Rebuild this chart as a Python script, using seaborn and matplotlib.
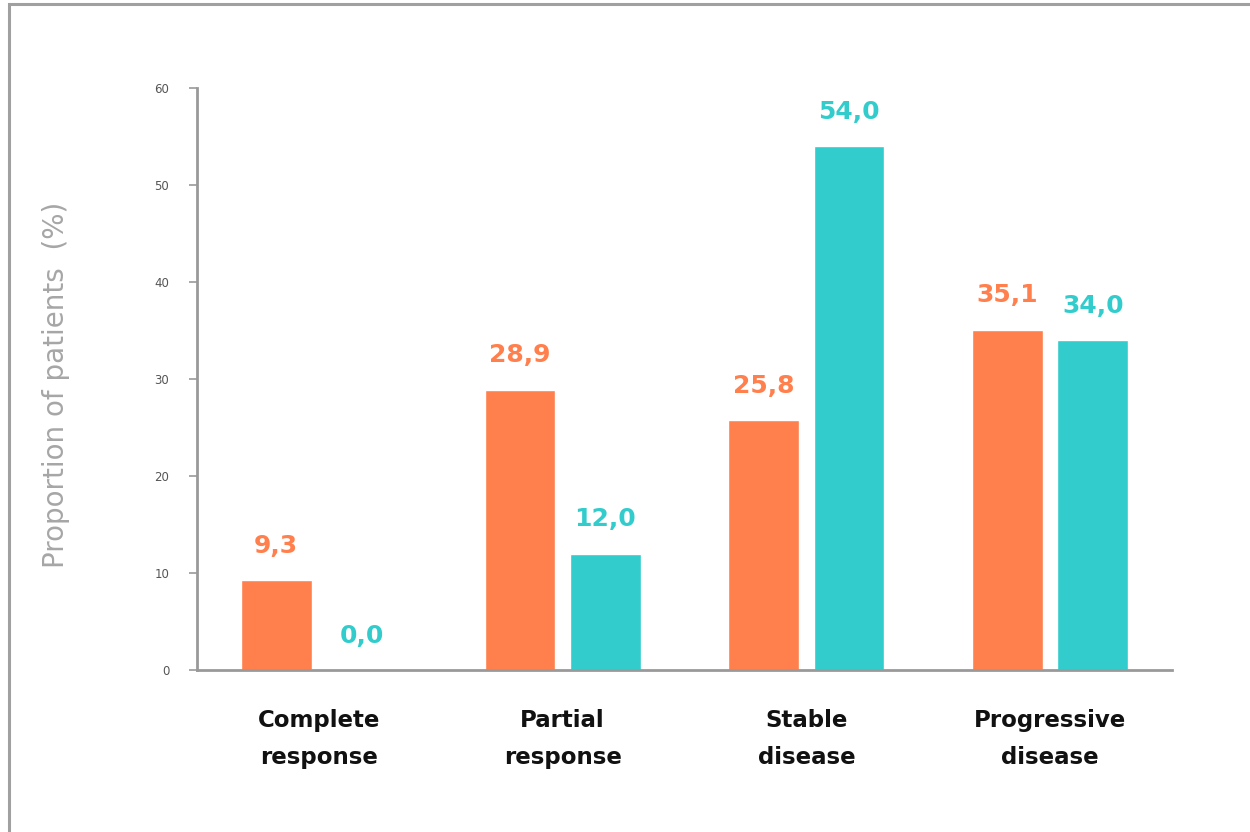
import matplotlib
matplotlib.use("Agg")
import matplotlib.pyplot as plt
import seaborn as sns
import pandas as pd
from matplotlib.patches import Rectangle

# Response categories and the proportion of patients (%) in each arm
categories = ["Complete\nresponse", "Partial\nresponse", "Stable\ndisease", "Progressive\ndisease"]
arms = ["Arm 1", "Arm 2"]
arm1_values = [9.3, 28.9, 25.8, 35.1]
arm2_values = [0.0, 12.0, 54.0, 34.0]
y_ticks = [0, 10, 20, 30, 40, 50, 60]

colors = {"Arm 1": "#FF7F4D", "Arm 2": "#33CCCC"}

df = pd.DataFrame({
    "category": categories * 2,
    "arm": [arms[0]] * len(categories) + [arms[1]] * len(categories),
    "value": arm1_values + arm2_values,
})

sns.set_theme(style="white")
plt.rcParams["font.family"] = ["DejaVu Sans"]

fig = plt.figure(figsize=(12.5, 8.32), dpi=100)
ax = fig.add_axes([0.1576, 0.1947, 0.78, 0.6995])

sns.barplot(data=df, x="category", y="value", hue="arm", order=categories,
            hue_order=arms, palette=colors, width=0.70, gap=0.17,
            saturation=1, legend=False, ax=ax, errorbar=None)

ax.set_ylim(0, 60)
ax.set_xlim(-0.5, 3.5)
ax.set_yticks(y_ticks)
ax.set_yticklabels([str(t) for t in y_ticks], fontsize=8.5, color="#555555")
ax.tick_params(axis="y", which="major", left=True, length=6, width=1.2,
               color="#999999", pad=14)
ax.tick_params(axis="x", which="major", bottom=False, length=0, pad=28)

for lbl in ax.get_xticklabels():
    lbl.set_fontsize(16.5)
    lbl.set_fontweight("bold")
    lbl.set_color("#111111")
    lbl.set_linespacing(1.8)

ax.set_xlabel("")
ax.set_ylabel("Proportion of patients  (%)", fontsize=20, color="#A6A6A6")
ax.yaxis.set_label_coords(-0.13, 0.49)

for side in ["top", "right"]:
    ax.spines[side].set_visible(False)
for side in ["left", "bottom"]:
    ax.spines[side].set_color("#999999")
    ax.spines[side].set_linewidth(2)

# Value labels above each bar, coloured like their arm
for container, arm in zip(ax.containers, arms):
    labels = [f"{v:.1f}".replace(".", ",") for v in container.datavalues]
    ax.bar_label(container, labels=labels, padding=16, fontsize=18,
                 fontweight="bold", color=colors[arm])

# Slide frame
fig.patches.append(Rectangle((0.0068, -0.05), 1.2, 1.05 - 0.0054,
                             transform=fig.transFigure, fill=False,
                             edgecolor="#A0A0A0", linewidth=2.2))

fig.savefig("out.png", dpi=100, facecolor="white")
